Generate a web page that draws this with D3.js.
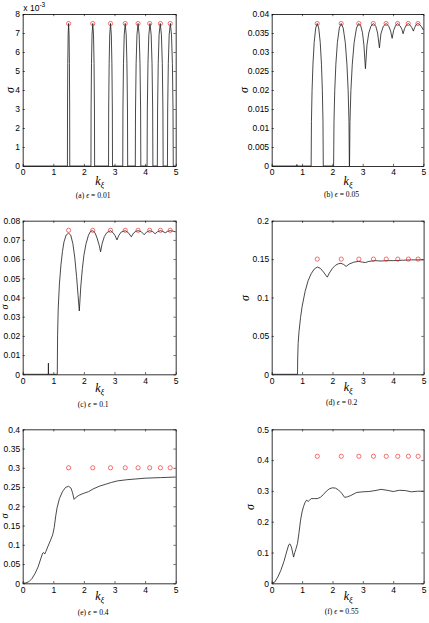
<!DOCTYPE html>
<html><head><meta charset="utf-8">
<script src="https://cdn.jsdelivr.net/npm/d3@7"></script>
<style>body{margin:0;background:#fff}svg{display:block}</style>
</head><body>
<svg id="chart" width="429" height="623"></svg>
<script>
// ---------- data ----------
const kTicks = [0, 1, 2, 3, 4, 5];
const kResonance = [1.5, 2.29, 2.87, 3.35, 3.77, 4.15, 4.5, 4.82];
const panelLetters = ["a", "b", "c", "d", "e", "f"];
const epsLabels = ["0.01", "0.05", "0.1", "0.2", "0.4", "0.55"];
const circleSigma = [0.0075, 0.0375, 0.075, 0.15, 0.30, 0.4125];
const yMaxes = [0.008, 0.04, 0.08, 0.2, 0.4, 0.5];

const yTicksA = [0, 0.001, 0.002, 0.003, 0.004, 0.005, 0.006, 0.007, 0.008];
const yTickLabelsA = ["0", "1", "2", "3", "4", "5", "6", "7", "8"];
const yTicksB = [0, 0.005, 0.01, 0.015, 0.02, 0.025, 0.03, 0.035, 0.04];
const yTickLabelsB = ["0", "0.005", "0.01", "0.015", "0.02", "0.025", "0.03", "0.035", "0.04"];
const yTicksC = [0, 0.01, 0.02, 0.03, 0.04, 0.05, 0.06, 0.07, 0.08];
const yTickLabelsC = ["0", "0.01", "0.02", "0.03", "0.04", "0.05", "0.06", "0.07", "0.08"];
const yTicksD = [0, 0.05, 0.1, 0.15, 0.2];
const yTickLabelsD = ["0", "0.05", "0.1", "0.15", "0.2"];
const yTicksE = [0, 0.05, 0.1, 0.15, 0.2, 0.25, 0.3, 0.35, 0.4];
const yTickLabelsE = ["0", "0.05", "0.1", "0.15", "0.2", "0.25", "0.3", "0.35", "0.4"];
const yTicksF = [0, 0.1, 0.2, 0.3, 0.4, 0.5];
const yTickLabelsF = ["0", "0.1", "0.2", "0.3", "0.4", "0.5"];

// growth rate curves [k, sigma]
const curveA = [[0,0],
 [1.462,0],[1.465,0.0030],[1.473,0.0054],[1.485,0.0069],[1.5,0.0075],[1.515,0.0069],[1.527,0.0054],[1.535,0.0030],[1.538,0],
 [2.23,0],[2.235,0.0030],[2.248,0.0054],[2.266,0.0069],[2.29,0.0075],[2.314,0.0069],[2.332,0.0054],[2.345,0.0030],[2.35,0],
 [2.805,0],[2.81,0.0030],[2.825,0.0054],[2.844,0.0069],[2.87,0.0075],[2.896,0.0069],[2.915,0.0054],[2.93,0.0030],[2.935,0],
 [3.27,0],[3.276,0.0030],[3.294,0.0054],[3.318,0.0069],[3.35,0.0075],[3.382,0.0069],[3.406,0.0054],[3.424,0.0030],[3.43,0],
 [3.68,0],[3.687,0.0030],[3.707,0.0054],[3.734,0.0069],[3.77,0.0075],[3.806,0.0069],[3.833,0.0054],[3.853,0.0030],[3.86,0],
 [4.065,0],[4.073,0.0030],[4.094,0.0054],[4.122,0.0069],[4.16,0.0075],[4.198,0.0069],[4.227,0.0054],[4.247,0.0030],[4.255,0],
 [4.40,0],[4.408,0.0030],[4.429,0.0054],[4.457,0.0069],[4.495,0.0075],[4.533,0.0069],[4.562,0.0054],[4.582,0.0030],[4.59,0],
 [4.73,0],[4.738,0.0030],[4.759,0.0054],[4.787,0.0069],[4.825,0.0075],[4.863,0.0069],[4.892,0.0054],[4.912,0.0030],[4.92,0],
 [5,0]];

const curveB = [[0,0],[0.82,0],[0.83,0.0004],[0.84,0],
 [1.30,0],[1.31,0.0117],[1.33,0.0198],[1.36,0.0268],[1.40,0.0325],[1.45,0.0363],[1.50,0.0375],[1.55,0.0363],[1.60,0.0325],[1.64,0.0268],[1.67,0.0198],[1.69,0.0117],[1.70,0],
 [2.04,0],[2.053,0.0117],[2.078,0.0198],[2.115,0.0268],[2.165,0.0325],[2.228,0.0363],[2.29,0.0375],[2.357,0.0363],[2.425,0.0325],[2.479,0.0268],[2.52,0.0198],[2.547,0.0117],[2.56,0],
 [2.565,0],[2.58,0.0117],[2.61,0.0198],[2.656,0.0268],[2.717,0.0325],[2.794,0.0363],[2.87,0.0375],[2.93,0.0370],[2.99,0.0352],[3.04,0.0318],[3.09,0.0256],
 [3.14,0.0318],[3.2,0.0350],[3.27,0.0368],[3.35,0.0375],[3.43,0.0368],[3.49,0.0350],[3.55,0.0311],
 [3.60,0.0348],[3.68,0.0368],[3.77,0.0375],[3.86,0.0368],[3.92,0.0355],[3.97,0.0336],
 [4.02,0.0357],[4.08,0.0369],[4.15,0.0375],[4.23,0.0369],[4.29,0.0360],[4.33,0.0348],
 [4.38,0.0362],[4.44,0.0371],[4.5,0.0375],[4.57,0.0370],[4.62,0.0364],[4.67,0.0355],
 [4.71,0.0364],[4.76,0.0372],[4.82,0.0375],[4.88,0.0372],[4.94,0.0366],[5.0,0.0358]];

const curveC = [[0,0],[0.835,0],[0.84,0.0058],[0.845,0],
 [1.13,0],[1.14,0.02],[1.16,0.034],[1.2,0.047],[1.25,0.057],[1.3,0.064],[1.35,0.069],[1.42,0.0725],[1.5,0.0735],[1.57,0.0725],[1.64,0.068],[1.7,0.061],[1.76,0.051],[1.81,0.041],[1.85,0.033],
 [1.9,0.046],[1.95,0.055],[2.0,0.062],[2.07,0.068],[2.15,0.0725],[2.22,0.0745],[2.29,0.0748],[2.36,0.0738],[2.43,0.071],[2.5,0.0672],[2.545,0.0638],
 [2.6,0.0683],[2.67,0.0718],[2.75,0.0738],[2.87,0.0748],[2.95,0.0738],[3.02,0.0722],[3.08,0.0700],
 [3.14,0.0723],[3.22,0.0741],[3.35,0.0748],[3.45,0.0738],[3.55,0.0716],
 [3.62,0.0735],[3.7,0.0745],[3.78,0.0748],[3.88,0.0742],[3.97,0.0727],
 [4.04,0.0740],[4.15,0.0748],[4.25,0.0743],[4.33,0.0732],
 [4.4,0.0742],[4.5,0.0748],[4.58,0.0744],[4.66,0.0737],
 [4.73,0.0744],[4.82,0.0748],[4.9,0.0746],[5,0.0742]];

const curveD = [[0,0],[0.85,0],[0.855,0.02],[0.87,0.04],[0.9,0.056],[0.95,0.074],[1.0,0.088],[1.1,0.108],[1.2,0.122],[1.3,0.131],[1.4,0.137],[1.5,0.1397],[1.6,0.138],[1.7,0.1335],[1.78,0.129],[1.83,0.1265],
 [1.9,0.132],[2.0,0.138],[2.1,0.142],[2.2,0.144],[2.28,0.1445],[2.37,0.143],[2.45,0.1405],[2.55,0.1435],[2.7,0.146],[2.85,0.147],[3.0,0.146],[3.08,0.1455],[3.2,0.147],[3.4,0.148],[3.6,0.1475],[3.8,0.148],[4.0,0.148],[4.3,0.1485],[4.6,0.149],[5,0.149]];

const curveE = [[0,0],[0.1,0.001],[0.2,0.004],[0.3,0.012],[0.4,0.025],[0.5,0.042],[0.6,0.066],[0.65,0.078],[0.68,0.08],[0.72,0.076],[0.76,0.083],[0.82,0.095],[0.9,0.11],[0.98,0.126],[1.03,0.145],[1.08,0.175],[1.12,0.195],[1.2,0.22],[1.3,0.238],[1.4,0.249],[1.5,0.252],[1.58,0.247],[1.63,0.235],[1.68,0.218],
 [1.75,0.224],[1.85,0.229],[2.0,0.234],[2.15,0.238],[2.3,0.245],[2.5,0.252],[2.7,0.257],[2.9,0.262],[3.1,0.266],[3.4,0.269],[3.7,0.271],[4.0,0.273],[4.5,0.2745],[5,0.276]];

const curveF = [[0,0],[0.1,0.004],[0.2,0.02],[0.3,0.042],[0.4,0.07],[0.5,0.105],[0.56,0.125],[0.6,0.128],[0.65,0.118],[0.7,0.095],[0.72,0.085],[0.76,0.1],[0.8,0.112],[0.85,0.13],[0.9,0.165],[0.95,0.205],[1.0,0.232],[1.05,0.25],[1.1,0.263],[1.15,0.27],[1.2,0.266],[1.25,0.27],[1.3,0.275],[1.4,0.275],[1.5,0.275],[1.6,0.279],[1.7,0.288],[1.8,0.299],[1.9,0.307],[2.0,0.31],[2.1,0.309],[2.2,0.303],[2.3,0.293],[2.4,0.279],
 [2.5,0.281],[2.6,0.285],[2.8,0.295],[3.0,0.297],[3.2,0.298],[3.4,0.301],[3.6,0.305],[3.8,0.302],[4.0,0.298],[4.2,0.302],[4.4,0.301],[4.6,0.297],[4.8,0.299],[5,0.299]];

const curves = [curveA, curveB, curveC, curveD, curveE, curveF];
const yTicksAll = [yTicksA, yTicksB, yTicksC, yTicksD, yTicksE, yTicksF];
const yLabelsAll = [yTickLabelsA, yTickLabelsB, yTickLabelsC, yTickLabelsD, yTickLabelsE, yTickLabelsF];

// ---------- layout ----------
const rects = [
  {x0:22.7, x1:175.7, y0:14, y1:166},
  {x0:271.7, x1:423.4, y0:14, y1:166},
  {x0:22.7, x1:175.7, y0:220.7, y1:374.3},
  {x0:271.7, x1:423.6, y0:220.7, y1:374.3},
  {x0:22.7, x1:175.7, y0:429.3, y1:583.3},
  {x0:271.7, x1:423.6, y0:429.3, y1:583.3}
];
const sigmaPos = [[11.5,90],[245,90],[6.2,307],[246.5,298],[6.2,516],[251,507]];
const sigmaSize = [12, 12, 10, 12, 10, 12];
const kLabelY = [185, 185, 392, 391, 600, 600];
const capY = [198, 197, 407, 405, 615, 614];

const svg = d3.select("#chart");
const tickFont = "'Liberation Sans', Arial, sans-serif";
const serif = "'Liberation Serif', 'Times New Roman', serif";

rects.forEach((r, i) => {
  const x = d3.scaleLinear().domain([0, 5]).range([r.x0, r.x1]);
  const y = d3.scaleLinear().domain([0, yMaxes[i]]).range([r.y1, r.y0]);
  const g = svg.append("g");
  const labs = yLabelsAll[i];
  const yt = yTicksAll[i];

  const styleAxis = sel => {
    sel.attr("font-family", tickFont).attr("font-size", 8.5);
    sel.selectAll("path.domain").attr("stroke", "#000").attr("stroke-width", 0.8);
    sel.selectAll(".tick line").attr("stroke", "#000").attr("stroke-width", 0.6);
    sel.selectAll("text").attr("fill", "#000");
  };

  g.append("g").attr("transform", `translate(0,${r.y1})`)
    .call(d3.axisBottom(x).tickValues(kTicks).tickFormat(d3.format("d")).tickSizeInner(-2.2).tickSizeOuter(0).tickPadding(3.2))
    .call(styleAxis);
  g.append("g").attr("transform", `translate(0,${r.y0})`)
    .call(d3.axisTop(x).tickValues(kTicks).tickFormat("").tickSizeInner(-2.2).tickSizeOuter(0))
    .call(styleAxis);
  g.append("g").attr("transform", `translate(${r.x0},0)`)
    .call(d3.axisLeft(y).tickValues(yt).tickFormat((d, j) => labs[j]).tickSizeInner(-2.2).tickSizeOuter(0).tickPadding(2.6))
    .call(styleAxis);
  g.append("g").attr("transform", `translate(${r.x1},0)`)
    .call(d3.axisRight(y).tickValues(yt).tickFormat("").tickSizeInner(-2.2).tickSizeOuter(0))
    .call(styleAxis);

  // curve
  g.append("path").datum(curves[i])
    .attr("fill", "none").attr("stroke", "#1a1a1a").attr("stroke-width", 0.8)
    .attr("stroke-linejoin", "round")
    .attr("d", d3.line().x(d => x(d[0])).y(d => y(d[1])));

  // resonance circles
  g.selectAll("circle.res").data(kResonance).enter().append("circle")
    .attr("cx", d => x(d)).attr("cy", y(circleSigma[i])).attr("r", 2.1)
    .attr("fill", "none").attr("stroke", "#f01010").attr("stroke-width", 0.6);

  // y label sigma
  g.append("text").attr("transform", `translate(${sigmaPos[i][0]},${sigmaPos[i][1]}) rotate(-90)`)
    .attr("text-anchor", "middle").attr("dominant-baseline", "middle")
    .attr("font-family", serif).attr("font-style", "italic").attr("font-size", sigmaSize[i]).text("σ");

  // x label k_xi
  const cx = (r.x0 + r.x1) / 2;
  const kl = g.append("text").attr("x", cx - 4).attr("y", kLabelY[i])
    .attr("font-family", serif).attr("font-style", "italic").attr("font-size", 12);
  kl.append("tspan").text("k");
  kl.append("tspan").attr("font-size", 8.5).attr("dy", 2.5).text("ξ");

  // caption
  const cap = g.append("text").attr("x", cx - 6).attr("y", capY[i]).attr("text-anchor", "middle")
    .attr("font-family", serif).attr("font-size", 7.6).attr("fill", "#000");
  cap.append("tspan").text(`(${panelLetters[i]}) `);
  cap.append("tspan").attr("font-style", "italic").text("ϵ");
  cap.append("tspan").text(` = ${epsLabels[i]}`);

  if (i === 0) {
    const ex = g.append("text").attr("x", r.x0 + 0.6).attr("y", r.y0 - 3.2)
      .attr("font-family", tickFont).attr("font-size", 8.5);
    ex.append("tspan").text("x 10");
    ex.append("tspan").attr("font-size", 6.5).attr("dy", -4).text("-3");
  }
});
</script>
</body></html>
